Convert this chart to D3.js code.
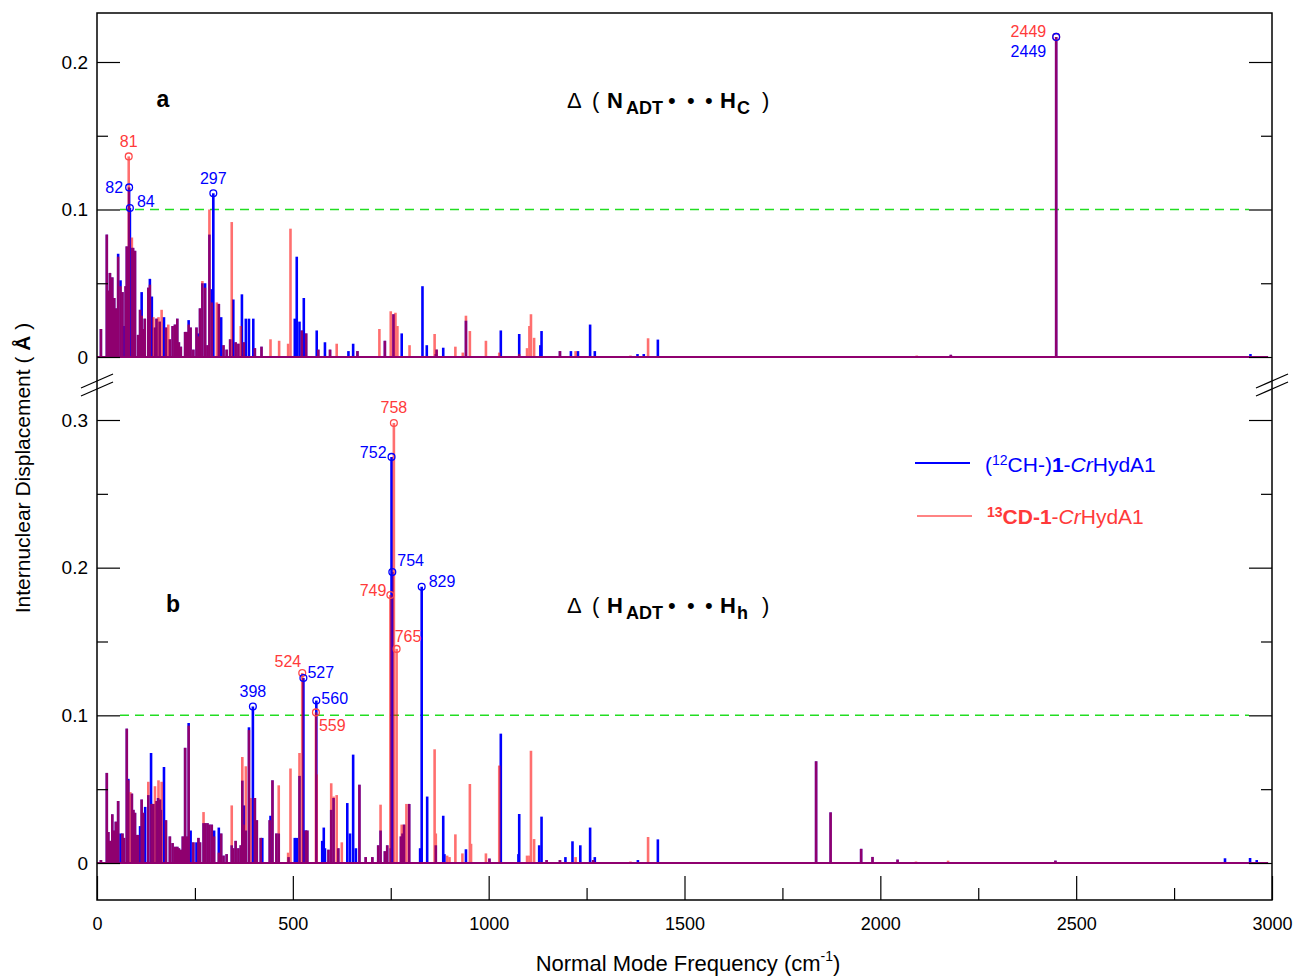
<!DOCTYPE html>
<html>
<head>
<meta charset="utf-8">
<script src="https://cdn.jsdelivr.net/npm/d3@7"></script>
<style>
  body { margin: 0; background: #fff; }
  svg text { font-family: "Liberation Sans", Arial, sans-serif; }
</style>
</head>
<body>
<svg id="chart" width="1294" height="976"></svg>
<script>
// ---- data: [frequency (cm-1), displacement (A)] ----
// panel a : N_ADT ... H_C
const ch12_a = [
  [10,.019],[25,.083],[29,.045],[33,.057],[39,.054],[44,.040],[48,.033],[54,.070],[60,.052],[65,.044],
  [69,.021],[73,.048],[76,.075],[80,.030],[82,.115],[84,.101],[89,.074],[92,.074],[97,.072],[105,.015],
  [110,.032],[114,.044],[118,.019],[122,.026],[131,.047],[135,.053],[140,.041],[148,.020],[152,.026],[160,.024],
  [171,.027],[176,.020],[186,.012],[193,.021],[199,.022],[205,.026],[209,.010],[214,.007],[225,.017],[229,.017],
  [234,.025],[239,.020],[246,.005],[254,.020],[259,.016],[263,.033],[269,.050],[276,.050],[282,.008],[287,.083],
  [293,.046],[297,.111],[311,.036],[317,.027],[323,.008],[331,.005],[340,.012],[348,.039],[354,.010],[361,.009],
  [370,.0425],[375,.010],[380,.026],[388,.026],[399,.026],[403,.006],[420,.007],[505,.026],[510,.068],[517,.024],
  [523,.018],[528,.040],[534,.016],[561,.018],[565,.005],[582,.010],[595,.005],[642,.004],[654,.009],[665,.004],
  [735,.011],[757,.029],[778,.016],[831,.048],[842,.008],[865,.002],[867,.005],[884,.0063],[942,.0246],[1031,.018],
  [1078,.0156],[1132,.008],[1135,.0176],[1182,.004],[1210,.004],[1228,.004],[1259,.022],[1271,.004],[1380,.002],[1396,.002],
  [1432,.0118],[2180,.0015],[2449,.217],[2945,.002]
];
const cd13_a = [
  [10,.019],[25,.083],[29,.045],[33,.057],[39,.054],[44,.040],[48,.033],[54,.068],[60,.048],[65,.044],
  [73,.048],[76,.075],[81,.136],[89,.081],[92,.074],[97,.072],[105,.015],[110,.032],[114,.028],[118,.019],
  [122,.026],[131,.047],[135,.049],[144,.027],[148,.020],[152,.026],[157,.027],[160,.024],[165,.032],[176,.020],
  [182,.022],[186,.012],[193,.021],[199,.022],[205,.026],[209,.010],[214,.007],[225,.017],[229,.017],[234,.022],
  [239,.020],[246,.005],[254,.020],[259,.014],[263,.033],[269,.0515],[276,.047],[282,.008],[287,.100],[293,.037],
  [306,.037],[311,.036],[323,.008],[331,.005],[340,.012],[344,.0915],[354,.010],[361,.009],[367,.021],[375,.010],
  [403,.006],[420,.007],[443,.012],[465,.011],[488,.009],[494,.087],[523,.018],[534,.016],[565,.005],[595,.005],
  [612,.009],[665,.004],[721,.019],[735,.011],[750,.031],[757,.029],[762,.030],[767,.021],[798,.008],[862,.0156],
  [866,.005],[867,.005],[915,.007],[934,.003],[942,.028],[952,.0176],[993,.011],[1027,.003],[1078,.002],[1098,.006],
  [1104,.021],[1108,.029],[1116,.013],[1182,.004],[1222,.004],[1362,.001],[1407,.0127],[2093,.001],[2180,.0015],[2449,.217]
];
// panel b : H_ADT ... H_h
const ch12_b = [
  [10,.002],[25,.061],[29,.021],[33,.015],[39,.033],[44,.022],[48,.028],[54,.042],[60,.020],[65,.020],
  [69,.017],[76,.091],[80,.057],[89,.047],[93,.036],[97,.034],[102,.019],[105,.019],[110,.025],[114,.043],
  [118,.034],[123,.038],[131,.046],[138,.0745],[139,.040],[144,.040],[152,.042],[156,.044],[161,.043],[163,.036],
  [171,.065],[176,.029],[186,.018],[193,.0135],[199,.011],[205,.011],[209,.010],[214,.009],[219,.018],[225,.078],
  [229,.018],[234,.0948],[239,.022],[246,.014],[254,.014],[259,.017],[263,.014],[272,.027],[276,.027],[282,.027],
  [287,.026],[293,.026],[299,.022],[311,.024],[317,.020],[323,.005],[331,.006],[344,.012],[348,.010],[354,.015],
  [361,.010],[367,.012],[371,.0558],[375,.039],[380,.022],[388,.0919],[398,.106],[403,.044],[408,.029],[418,.017],
  [422,.017],[441,.029],[443,.032],[448,.056],[458,.020],[464,.020],[489,.004],[505,.017],[510,.017],[517,.059],
  [527,.1253],[530,.022],[533,.022],[537,.022],[560,.110],[575,.015],[579,.024],[582,.010],[591,.009],[598,.036],
  [604,.044],[616,.010],[639,.0406],[646,.020],[654,.0734],[661,.010],[670,.053],[686,.004],[703,.004],[718,.012],
  [724,.022],[735,.008],[741,.012],[750,.010],[752,.275],[754,.197],[776,.018],[780,.020],[784,.026],[797,.040],
  [825,.010],[829,.187],[843,.045],[865,.012],[884,.032],[887,.006],[942,.0093],[1002,.003],[1031,.0876],[1076,.006],
  [1078,.0332],[1129,.012],[1135,.0314],[1148,.002],[1182,.002],[1196,.004],[1214,.0147],[1234,.012],[1259,.024],[1267,.002],
  [1271,.004],[1381,.002],[1432,.016],[1545,.0005],[1836,.0689],[1873,.0343],[1951,.0096],[1980,.0041],[2044,.0023],[2447,.0016],
  [2880,.0032],[2944,.0034],[2961,.002]
];
const cd13_b = [
  [10,.002],[25,.061],[29,.021],[33,.015],[39,.033],[44,.022],[48,.028],[54,.042],[65,.020],[69,.017],
  [76,.091],[80,.056],[85,.048],[89,.047],[93,.036],[97,.034],[102,.019],[105,.019],[114,.043],[118,.034],
  [131,.055],[139,.040],[144,.040],[148,.052],[152,.042],[157,.056],[161,.043],[165,.055],[176,.029],[186,.018],
  [193,.0135],[199,.011],[205,.011],[209,.010],[214,.009],[219,.018],[225,.078],[229,.018],[234,.093],[246,.014],
  [259,.017],[263,.014],[272,.0345],[276,.027],[282,.027],[287,.026],[293,.026],[299,.018],[311,.007],[317,.020],
  [323,.005],[331,.006],[344,.039],[348,.010],[354,.015],[361,.010],[367,.012],[371,.0718],[375,.026],[380,.0655],
  [388,.090],[392,.044],[403,.044],[408,.029],[418,.017],[441,.029],[448,.056],[458,.020],[464,.0526],[488,.007],
  [489,.004],[494,.064],[517,.0745],[524,.1287],[533,.022],[537,.022],[559,.102],[561,.060],[591,.009],[598,.054],
  [604,.045],[612,.046],[616,.010],[625,.014],[670,.053],[686,.004],[703,.004],[718,.012],[724,.0395],[735,.008],
  [741,.012],[749,.1815],[758,.298],[765,.145],[776,.018],[778,.026],[784,.026],[790,.040],[797,.040],[862,.077],
  [865,.020],[894,.005],[900,.004],[915,.0194],[933,.0065],[952,.0535],[955,.013],[993,.0065],[1002,.003],[1027,.066],
  [1098,.005],[1104,.005],[1108,.076],[1116,.0162],[1148,.002],[1182,.002],[1222,.004],[1267,.002],[1362,.001],[1407,.0176],
  [1545,.0005],[1836,.0689],[1873,.0343],[1951,.0096],[1980,.0041],[2044,.0023],[2091,.001],[2173,.0016],[2447,.0016]
];
// labelled modes: [frequency, displacement, series, label]
const peaks_a = [[81,.136,'cd','81'],[82,.115,'ch','82'],[84,.101,'ch','84'],[297,.111,'ch','297'],
                 [2449,.217,'cd','2449'],[2449,.217,'ch','2449']];
const peaks_b = [[758,.298,'cd','758'],[752,.275,'ch','752'],[754,.197,'ch','754'],[749,.1815,'cd','749'],
                 [829,.187,'ch','829'],[765,.145,'cd','765'],[524,.1287,'cd','524'],[527,.1253,'ch','527'],
                 [560,.110,'ch','560'],[559,.102,'cd','559'],[398,.106,'ch','398']];
const xMajor = [0, 500, 1000, 1500, 2000, 2500, 3000];
const xMinor = [250, 750, 1250, 1750, 2250, 2750];
const yMajor_a = [0, 0.1, 0.2], yMinor_a = [0.05, 0.15];
const yMajor_b = [0, 0.1, 0.2, 0.3], yMinor_b = [0.05, 0.15, 0.25];
const threshold = 0.1;

// ---- layout ----
const svg = d3.select('#chart');
const frame = {left: 97, right: 1272, top: 13, bottom: 900};
const BLUE = '#0000ff', RED = '#ff0000', TXT_RED = '#ff3a3a';

const x = d3.scaleLinear().domain([0, 3000]).range([frame.left, frame.right]);
const yA = d3.scaleLinear().domain([0, 0.2]).range([357, 62]);
const yB = d3.scaleLinear().domain([0, 0.3]).range([863, 420]);

// label placement [anchor, dx, dy] keyed by series+label
const place = {
  cd81: ['middle', 0, -9], ch82: ['end', -6, 6], ch84: ['start', 7, -1], ch297: ['middle', 0, -9],
  cd2449: ['end', -10, 0], ch2449: ['end', -10, 20],
  cd758: ['middle', 0, -10], ch752: ['end', -5, 1], ch754: ['start', 5, -6], cd749: ['end', -4, 1],
  ch829: ['start', 7, 0], cd765: ['start', -2, -7], cd524: ['end', -1, -6], ch527: ['start', 4, 0],
  ch560: ['start', 5, 3], cd559: ['start', 3, 19], ch398: ['middle', 0, -9]
};

function drawPanel(y, blue, red, peaks, majors, minors) {
  const g = svg.append('g');

  // threshold
  g.append('line')
    .attr('x1', frame.left + 23).attr('x2', frame.right - 23)
    .attr('y1', y(threshold)).attr('y2', y(threshold))
    .attr('stroke', '#22dd22').attr('stroke-width', 1.5)
    .attr('stroke-dasharray', '9,6');

  // blue sticks + baseline
  const gb = g.append('g');
  gb.append('line')
    .attr('x1', frame.left).attr('x2', x(2990))
    .attr('y1', y(0)).attr('y2', y(0))
    .attr('stroke', BLUE).attr('stroke-width', 2.2);
  gb.selectAll('line.stick').data(blue).enter().append('line')
    .attr('class', 'stick')
    .attr('x1', d => x(d[0])).attr('x2', d => x(d[0]))
    .attr('y1', y(0)).attr('y2', d => y(d[1]))
    .attr('stroke', BLUE).attr('stroke-width', 2.6);

  // red sticks, translucent so overlap shows purple
  const gr = g.append('g').attr('opacity', 0.56);
  gr.append('line')
    .attr('x1', frame.left).attr('x2', x(2990))
    .attr('y1', y(0)).attr('y2', y(0))
    .attr('stroke', RED).attr('stroke-width', 2.2);
  gr.selectAll('line.stick').data(red).enter().append('line')
    .attr('class', 'stick')
    .attr('x1', d => x(d[0])).attr('x2', d => x(d[0]))
    .attr('y1', y(0)).attr('y2', d => y(d[1]))
    .attr('stroke', RED).attr('stroke-width', 2.6);

  // marked peaks
  g.selectAll('circle.pk').data(peaks).enter().append('circle')
    .attr('class', 'pk')
    .attr('cx', d => x(d[0])).attr('cy', d => y(d[1])).attr('r', 3.4)
    .attr('fill', 'none').attr('stroke-width', 1.3)
    .attr('stroke', d => d[2] === 'ch' ? BLUE : '#ff4a4a');
  g.selectAll('text.pk').data(peaks).enter().append('text')
    .attr('class', 'pk')
    .attr('x', d => x(d[0]) + place[d[2] + d[3]][1])
    .attr('y', d => y(d[1]) + place[d[2] + d[3]][2])
    .attr('text-anchor', d => place[d[2] + d[3]][0])
    .attr('font-size', 16)
    .attr('fill', d => d[2] === 'ch' ? BLUE : TXT_RED)
    .text(d => d[3]);

  // axes: ticks inside on both sides, labels left
  const fmt = d => d === 0 ? '0' : d3.format('.1f')(d);
  const addAxis = (axis, tx) => {
    const a = g.append('g').attr('transform', `translate(${tx},0)`).call(axis);
    a.select('.domain').remove();
    a.selectAll('line').attr('stroke', '#000').attr('stroke-width', 1.2);
    return a;
  };
  addAxis(d3.axisRight(y).tickValues(majors).tickSize(23).tickFormat(''), frame.left);
  addAxis(d3.axisRight(y).tickValues(minors).tickSize(11).tickFormat(''), frame.left);
  addAxis(d3.axisLeft(y).tickValues(majors).tickSize(23).tickFormat(''), frame.right);
  addAxis(d3.axisLeft(y).tickValues(minors).tickSize(11).tickFormat(''), frame.right);
  const lab = addAxis(d3.axisLeft(y).tickValues(majors).tickSize(0).tickPadding(9).tickFormat(fmt), frame.left);
  lab.selectAll('text').attr('font-size', 19).attr('fill', '#000')
    .style('font-family', '"Liberation Sans", Arial, sans-serif');
}

drawPanel(yA, ch12_a, cd13_a, peaks_a, yMajor_a, yMinor_a);
drawPanel(yB, ch12_b, cd13_b, peaks_b, yMajor_b, yMinor_b);

// x axis
const xa1 = svg.append('g').attr('transform', `translate(0,${frame.bottom})`)
  .call(d3.axisTop(x).tickValues(xMajor).tickSize(24).tickFormat(''));
const xa2 = svg.append('g').attr('transform', `translate(0,${frame.bottom})`)
  .call(d3.axisTop(x).tickValues(xMinor).tickSize(12).tickFormat(''));
const xa3 = svg.append('g').attr('transform', `translate(0,${frame.bottom})`)
  .call(d3.axisBottom(x).tickValues(xMajor).tickSize(0).tickPadding(17).tickFormat(d3.format('d')));
[xa1, xa2, xa3].forEach(a => {
  a.select('.domain').remove();
  a.selectAll('line').attr('stroke', '#000').attr('stroke-width', 1.2);
});
xa3.selectAll('text').attr('font-size', 18).attr('fill', '#000')
  .style('font-family', '"Liberation Sans", Arial, sans-serif');

// frame
svg.append('rect')
  .attr('x', frame.left).attr('y', frame.top)
  .attr('width', frame.right - frame.left).attr('height', frame.bottom - frame.top)
  .attr('fill', 'none').attr('stroke', '#000').attr('stroke-width', 1.5);

// axis break marks
[frame.left, frame.right].forEach(cx => {
  [-4, 4].forEach(off => {
    svg.append('line')
      .attr('x1', cx - 16).attr('y1', 385 + off + 7)
      .attr('x2', cx + 16).attr('y2', 385 + off - 7)
      .attr('stroke', '#000').attr('stroke-width', 1.2);
  });
});

// panel letters and titles
svg.append('text').attr('x', 163).attr('y', 107).attr('font-size', 23)
  .attr('font-weight', 'bold').attr('text-anchor', 'middle').text('a');
svg.append('text').attr('x', 173).attr('y', 612).attr('font-size', 23)
  .attr('font-weight', 'bold').attr('text-anchor', 'middle').text('b');

function title(yb, a, asub, b, bsub) {
  const t = svg.append('g').attr('fill', '#000');
  const part = (px, txt, bold, sub) => t.append('text')
    .attr('x', px).attr('y', sub ? yb + 6 : yb)
    .attr('font-size', sub ? 18 : 22)
    .attr('font-weight', bold ? 'bold' : 'normal').text(txt);
  part(567, '\u0394'); part(592, '('); part(607, a, true); part(626, asub, true, true);
  part(668, '\u2022'); part(687, '\u2022'); part(705, '\u2022');
  part(720, b, true); part(737, bsub, true, true); part(762, ')');
}
title(108, 'N', 'ADT', 'H', 'C');
title(613, 'H', 'ADT', 'H', 'h');

// legend
svg.append('line').attr('x1', 915).attr('x2', 970).attr('y1', 463).attr('y2', 463)
  .attr('stroke', BLUE).attr('stroke-width', 2);
svg.append('line').attr('x1', 917).attr('x2', 972).attr('y1', 516).attr('y2', 516)
  .attr('stroke', '#ff5a5a').attr('stroke-width', 1.5);
const l1 = svg.append('text').attr('x', 985).attr('y', 472).attr('font-size', 21).attr('fill', BLUE);
l1.append('tspan').text('(');
l1.append('tspan').attr('font-size', 14).attr('dy', -7).text('12');
l1.append('tspan').attr('dy', 7).text('CH-)');
l1.append('tspan').attr('font-weight', 'bold').text('1');
l1.append('tspan').text('-');
l1.append('tspan').attr('font-style', 'italic').text('Cr');
l1.append('tspan').text('HydA1');
const l2 = svg.append('text').attr('x', 987).attr('y', 524).attr('font-size', 21).attr('fill', TXT_RED);
l2.append('tspan').attr('font-weight', 'bold').attr('font-size', 14).attr('dy', -7).text('13');
l2.append('tspan').attr('font-weight', 'bold').attr('dy', 7).text('CD-1');
l2.append('tspan').text('-');
l2.append('tspan').attr('font-style', 'italic').text('Cr');
l2.append('tspan').text('HydA1');

// axis titles
const yt = svg.append('text').attr('transform', 'translate(30,468) rotate(-90)')
  .attr('text-anchor', 'middle').attr('font-size', 21).attr('fill', '#000');
yt.append('tspan').text('Internuclear Displacement ( ');
yt.append('tspan').attr('font-weight', 'bold').text('\u00c5');
yt.append('tspan').text(' )');

const xt = svg.append('text').attr('x', 688).attr('y', 971)
  .attr('text-anchor', 'middle').attr('font-size', 22).attr('fill', '#000');
xt.append('tspan').text('Normal Mode Frequency (cm');
xt.append('tspan').attr('font-size', 14).attr('dy', -10).text('-1');
xt.append('tspan').attr('dy', 10).text(')');
</script>
</body>
</html>
